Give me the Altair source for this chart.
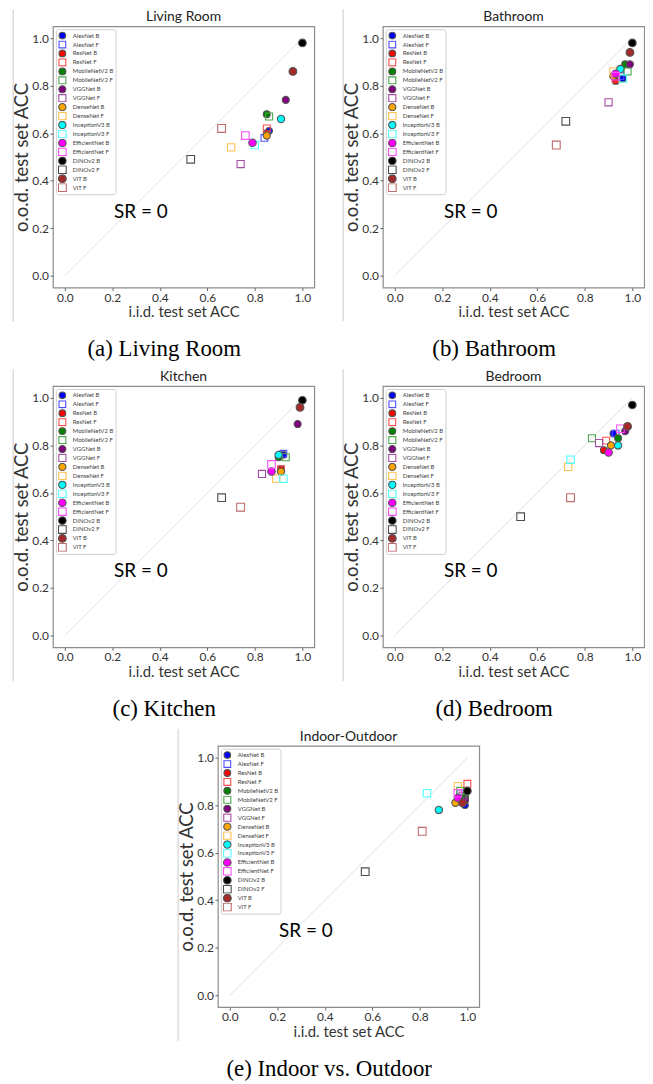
import altair as alt
import pandas as pd

# ---------------- data ----------------
models = ["AlexNet", "ResNet", "MobileNetV2", "VGGNet", "DenseNet",
          "InceptionV3", "EfficientNet", "DINOv2", "ViT"]
labels = [f"{m} {k}" for m in models for k in ("B", "F")]

living_iid = [0.86, 0.84, 0.85, 0.85, 0.85, 0.86, 0.93, 0.74, 0.85, 0.70, 0.91, 0.80, 0.79, 0.76, 1.00, 0.53, 0.96, 0.66]
living_ood = [0.61, 0.58, 0.60, 0.62, 0.68, 0.67, 0.74, 0.47, 0.59, 0.54, 0.66, 0.55, 0.56, 0.59, 0.98, 0.49, 0.86, 0.62]

bath_iid = [0.96, 0.95, 0.93, 0.93, 0.97, 0.98, 0.99, 0.90, 0.92, 0.92, 0.95, 0.96, 0.93, 0.93, 1.00, 0.72, 0.99, 0.68]
bath_ood = [0.83, 0.84, 0.82, 0.83, 0.89, 0.86, 0.89, 0.73, 0.84, 0.86, 0.87, 0.83, 0.85, 0.84, 0.98, 0.65, 0.94, 0.55]

kitchen_iid = [0.92, 0.92, 0.91, 0.91, 0.90, 0.93, 0.98, 0.83, 0.91, 0.89, 0.90, 0.92, 0.87, 0.87, 1.00, 0.66, 0.99, 0.74]
kitchen_ood = [0.76, 0.765, 0.70, 0.70, 0.75, 0.75, 0.89, 0.68, 0.69, 0.66, 0.76, 0.66, 0.69, 0.72, 0.99, 0.58, 0.96, 0.54]

bed_iid = [0.92, 0.93, 0.88, 0.89, 0.94, 0.83, 0.97, 0.86, 0.91, 0.73, 0.94, 0.74, 0.90, 0.95, 1.00, 0.53, 0.98, 0.74]
bed_ood = [0.85, 0.85, 0.78, 0.82, 0.83, 0.83, 0.86, 0.81, 0.80, 0.71, 0.80, 0.74, 0.77, 0.87, 0.97, 0.50, 0.88, 0.58]

io_iid = [0.99, 0.97, 0.99, 1.00, 0.99, 0.97, 0.99, 0.98, 0.95, 0.96, 0.88, 0.83, 0.96, 0.96, 1.00, 0.57, 0.98, 0.81]
io_ood = [0.80, 0.85, 0.83, 0.89, 0.84, 0.86, 0.82, 0.84, 0.81, 0.88, 0.78, 0.85, 0.83, 0.85, 0.86, 0.52, 0.81, 0.69]

diag_x = [0.0, 1.0]
diag_y = [0.0, 1.0]
tick_values = [0.0, 0.2, 0.4, 0.6, 0.8, 1.0]
sr_x = [0.32]
sr_y = [0.27]
sr_text = ["SR = 0"]

# ---------------- styles ----------------
base_colors = ["blue", "red", "green", "purple", "orange", "cyan", "magenta", "black", "brown"]
light_colors = ["#4d4dff", "#ff4d4d", "#4da64d", "#a64da6", "#ffc04d", "#4dffff", "#ff4dff", "#4d4d4d", "#c06a6a"]
fill_range, stroke_range, shape_range, size_range = [], [], [], []
for c, lc in zip(base_colors, light_colors):
    fill_range += [c, "transparent"]
    stroke_range += ["#555555", lc]
    shape_range += ["circle", "square"]
    size_range += [44, 62]

W, H = 263, 263
FONT = "Lato"
xsc = alt.Scale(domain=[-0.05, 1.05], nice=False, zero=False)
ysc = alt.Scale(domain=[-0.05, 1.05], nice=False, zero=False)
x_axis = alt.Axis(values=tick_values, format=".1f", title="i.i.d. test set ACC")
y_axis = alt.Axis(values=tick_values, format=".1f", title="o.o.d. test set ACC")


def legend():
    return alt.Legend(orient="none", legendX=3, legendY=3, title=None)


def panel(name, caption, iid, ood):
    df = pd.DataFrame({"label": labels, "iid": iid, "ood": ood})
    one = pd.DataFrame({"k": [0]})

    vline = alt.Chart(one).mark_rule(color="#cccccc", strokeWidth=1).encode(
        x=alt.value(-40), y=alt.value(-17), y2=alt.value(H + 34))

    diag = alt.Chart(pd.DataFrame({"iid": diag_x, "ood": diag_y})).mark_line(
        color="#e0e0e0", strokeWidth=1).encode(
        x=alt.X("iid:Q", scale=xsc, axis=x_axis),
        y=alt.Y("ood:Q", scale=ysc, axis=y_axis))

    pts = alt.Chart(df).mark_point(filled=True, opacity=1, strokeWidth=1.1).encode(
        x=alt.X("iid:Q", scale=xsc, axis=x_axis),
        y=alt.Y("ood:Q", scale=ysc, axis=y_axis),
        fill=alt.Fill("label:N", scale=alt.Scale(domain=labels, range=fill_range), legend=legend()),
        stroke=alt.Stroke("label:N", scale=alt.Scale(domain=labels, range=stroke_range), legend=legend()),
        shape=alt.Shape("label:N", scale=alt.Scale(domain=labels, range=shape_range), legend=legend()),
        size=alt.Size("label:N", scale=alt.Scale(domain=labels, range=size_range), legend=legend()),
        order=alt.Order("idx:Q"),
    ).transform_window(idx="row_number()")

    sr = alt.Chart(pd.DataFrame({"iid": sr_x, "ood": sr_y, "t": sr_text})).mark_text(
        font=FONT, fontSize=19, color="black").encode(
        x=alt.X("iid:Q", scale=xsc, axis=x_axis),
        y=alt.Y("ood:Q", scale=ysc, axis=y_axis),
        text="t:N")

    ttl = alt.Chart(one).mark_text(font=FONT, fontSize=14, color="#222222",
                                   baseline="middle", align="center").encode(
        x=alt.value(W / 2), y=alt.value(-9), text=alt.value(name))

    cap = alt.Chart(one).mark_text(font="Liberation Serif", fontSize=23, color="black",
                                   baseline="middle", align="center").encode(
        x=alt.value(112), y=alt.value(H + 62), text=alt.value(caption))

    return alt.layer(vline, diag, pts, sr, ttl, cap).properties(width=W, height=H)


ind = dict(fill="independent", stroke="independent", shape="independent", size="independent")

pa = panel("Living Room", "(a) Living Room", living_iid, living_ood)
pb = panel("Bathroom", "(b) Bathroom", bath_iid, bath_ood)
pc = panel("Kitchen", "(c) Kitchen", kitchen_iid, kitchen_ood)
pd_ = panel("Bedroom", "(d) Bedroom", bed_iid, bed_ood)
pe = panel("Indoor-Outdoor", "(e) Indoor vs. Outdoor", io_iid, io_ood)

row1 = alt.hconcat(pa, pb, spacing=26).resolve_scale(**ind).resolve_legend(**ind)
row2 = alt.hconcat(pc, pd_, spacing=26).resolve_scale(**ind).resolve_legend(**ind)

chart = alt.vconcat(row1, row2, pe, spacing=5, center=True).resolve_scale(**ind).resolve_legend(**ind).properties(
    padding={"left": 4, "top": -4, "right": 0, "bottom": 0}
).configure_view(
    stroke="#8c8c8c", strokeWidth=1.2
).configure_axis(
    labelFont=FONT, titleFont=FONT, labelFontSize=12,
    labelColor="#333333", titleColor="#333333", tickColor="#666666", tickSize=3,
    domain=False, grid=False, titleFontWeight="normal", labelPadding=1.5
).configure_axisX(
    titleFontSize=15, titlePadding=2
).configure_axisY(
    titleFontSize=18.5, titlePadding=0
).configure_legend(
    labelFont=FONT, labelFontSize=6, labelColor="#444444", padding=2, rowPadding=0,
    clipHeight=8.8, symbolStrokeWidth=1.1, strokeColor="#d0d0d0", fillColor="white",
    cornerRadius=2, labelOffset=6
)

chart.save("out.html", embed_options={"renderer": "svg", "actions": False})
